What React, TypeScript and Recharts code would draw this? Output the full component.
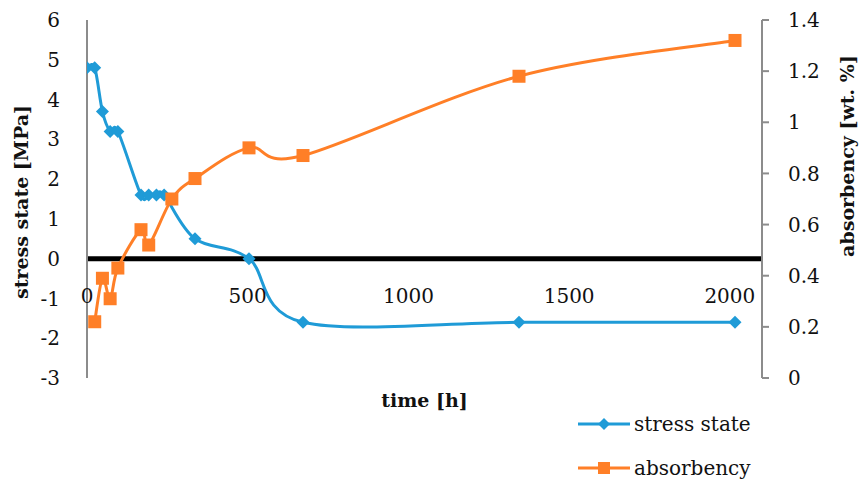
import React from 'react';
import { LineChart, Line, XAxis, YAxis, ReferenceLine, Legend } from 'recharts';

// ---- data ----
const stressTimes = [0, 24, 48, 72, 96, 168, 192, 216, 240, 336, 504, 672, 1344, 2016];
const stressValues = [4.8, 4.8, 3.7, 3.2, 3.2, 1.6, 1.6, 1.6, 1.6, 0.5, 0, -1.6, -1.6, -1.6];
const absTimes = [24, 48, 72, 96, 168, 192, 264, 336, 504, 672, 1344, 2016];
const absValues = [0.22, 0.39, 0.31, 0.43, 0.58, 0.52, 0.7, 0.78, 0.9, 0.87, 1.18, 1.32];
const xTicks = [0, 500, 1000, 1500, 2000];
const leftTicks = [-3, -2, -1, 0, 1, 2, 3, 4, 5, 6];
const rightTicks = [0, 0.2, 0.4, 0.6, 0.8, 1, 1.2, 1.4];
const seriesNames = { stress: 'stress state', abs: 'absorbency' };

const allTimes = Array.from(new Set([...stressTimes, ...absTimes])).sort((a, b) => a - b);
const table = allTimes.map((t) => {
  const si = stressTimes.indexOf(t);
  const ai = absTimes.indexOf(t);
  return { t, stress: si >= 0 ? stressValues[si] : null, abs: ai >= 0 ? absValues[ai] : null };
});

// ---- style / layout ----
const W = 860;
const H = 484;
const TOP = 20;
const PLOT_H = 358;
const LEFT_W = 87;
const RIGHT_W = 98;
const XAXIS_H = H - TOP - PLOT_H;
const LEFT_DOMAIN: [number, number] = [-3, 6];
const ZERO_Y = TOP + (PLOT_H * LEFT_DOMAIN[1]) / (LEFT_DOMAIN[1] - LEFT_DOMAIN[0]);
const BLUE = '#1F9BD7';
const ORANGE = '#FF7F27';
const FONT = '"DejaVu Serif", serif';
const AXIS_GRAY = '#8C8C8C';

// Excel-like smooth curve (Catmull-Rom bezier)
function smoothCurve(context: any) {
  let pts: number[][] = [];
  return {
    areaStart() {},
    areaEnd() {},
    lineStart() {
      pts = [];
    },
    point(x: number, y: number) {
      pts.push([+x, +y]);
    },
    lineEnd() {
      const n = pts.length;
      if (!n) return;
      context.moveTo(pts[0][0], pts[0][1]);
      for (let i = 0; i < n - 1; i++) {
        const p0 = pts[i - 1] || pts[i];
        const p1 = pts[i];
        const p2 = pts[i + 1];
        const p3 = pts[i + 2] || p2;
        const c1x = p1[0] + (p2[0] - p0[0]) / 6;
        const c1y = p1[1] + (p2[1] - p0[1]) / 6;
        const c2x = p2[0] - (p3[0] - p1[0]) / 6;
        const c2y = p2[1] - (p3[1] - p1[1]) / 6;
        context.bezierCurveTo(c1x, c1y, c2x, c2y, p2[0], p2[1]);
      }
    },
  };
}

const Diamond = ({ cx, cy, r = 6.5, fill }: any) => (
  <polygon points={`${cx},${cy - r} ${cx + r},${cy} ${cx},${cy + r} ${cx - r},${cy}`} fill={fill} />
);
const Square = ({ cx, cy, s = 13, fill }: any) => (
  <rect x={cx - s / 2} y={cy - s / 2} width={s} height={s} fill={fill} />
);

const renderDiamond = (props: any) => {
  const { cx, cy, index, value } = props;
  if (value == null || cx == null || cy == null) return <g key={`d-${index}`} />;
  return <Diamond key={`d-${index}`} cx={cx} cy={cy} fill={BLUE} />;
};
const renderSquare = (props: any) => {
  const { cx, cy, index, value } = props;
  if (value == null || cx == null || cy == null) return <g key={`s-${index}`} />;
  return <Square key={`s-${index}`} cx={cx} cy={cy} fill={ORANGE} />;
};

const XTick = (props: any) => {
  const { x, payload } = props;
  return (
    <text x={x} y={ZERO_Y + 37} textAnchor="middle" dominantBaseline="central" fontFamily={FONT} fontSize={20} fill="#111">
      {payload.value}
    </text>
  );
};

const fmtRight = (v: number) => String(Math.round(v * 10) / 10);

const LeftTitle = (props: any) => {
  const vb = props.viewBox || {};
  const cx = 21;
  const cy = vb.y + vb.height / 2 + 3;
  return (
    <text x={cx} y={cy} transform={`rotate(-90 ${cx} ${cy})`} textAnchor="middle" dominantBaseline="central" fontFamily={FONT} fontWeight="bold" fontSize={19} fill="#111">
      stress state [MPa]
    </text>
  );
};
const RightTitle = () => {
  const cx = 847;
  const cy = 156;
  return (
    <text x={cx} y={cy} transform={`rotate(-90 ${cx} ${cy})`} textAnchor="middle" dominantBaseline="central" fontFamily={FONT} fontWeight="bold" fontSize={19} fill="#111">
      absorbency [wt. %]
    </text>
  );
};
const XTitle = (props: any) => {
  const vb = props.viewBox || {};
  return (
    <text x={vb.x + vb.width / 2} y={vb.y + 22} textAnchor="middle" dominantBaseline="central" fontFamily={FONT} fontWeight="bold" fontSize={19} fill="#111">
      time [h]
    </text>
  );
};

const LegendContent = () => {
  const items = [
    { name: seriesNames.stress, color: BLUE, kind: 'diamond' },
    { name: seriesNames.abs, color: ORANGE, kind: 'square' },
  ];
  return (
    <svg width={200} height={70} style={{ display: 'block', overflow: 'visible' }}>
      {items.map((it, i) => {
        const y = 16 + i * 44;
        return (
          <g key={it.name}>
            <line x1={8} x2={60} y1={y} y2={y} stroke={it.color} strokeWidth={3} />
            {it.kind === 'diamond' ? <Diamond cx={34} cy={y} r={6} fill={it.color} /> : <Square cx={34} cy={y} s={12} fill={it.color} />}
            <text x={64} y={y} dominantBaseline="central" fontFamily={FONT} fontSize={20} fill="#111">
              {it.name}
            </text>
          </g>
        );
      })}
    </svg>
  );
};

export default function App() {
  return (
    <div style={{ position: 'absolute', left: 0, top: 0, width: W, height: H, background: '#fff' }}>
      <LineChart width={W} height={H} data={table} margin={{ top: TOP, right: 0, bottom: 0, left: 0 }}>
        <XAxis
          dataKey="t"
          type="number"
          domain={[0, 2100]}
          ticks={xTicks}
          allowDataOverflow
          axisLine={false}
          tickLine={false}
          height={XAXIS_H}
          tick={<XTick />}
          label={<XTitle />}
          interval={0}
        />
        <YAxis
          yAxisId="left"
          orientation="left"
          domain={LEFT_DOMAIN}
          ticks={leftTicks}
          width={LEFT_W}
          axisLine={{ stroke: AXIS_GRAY, strokeWidth: 2 }}
          tickLine={false}
          tickSize={8}
          tickMargin={19}
          interval={0}
          tick={{ fontFamily: FONT, fontSize: 20, fill: '#111' }}
          label={<LeftTitle />}
        />
        <YAxis
          yAxisId="right"
          orientation="right"
          domain={[0, 1.4]}
          ticks={rightTicks}
          width={RIGHT_W}
          axisLine={{ stroke: AXIS_GRAY, strokeWidth: 2 }}
          tickLine={{ stroke: AXIS_GRAY, strokeWidth: 2 }}
          tickSize={7}
          tickMargin={19}
          interval={0}
          tickFormatter={fmtRight}
          tick={{ fontFamily: FONT, fontSize: 20, fill: '#111', textAnchor: 'start' }}
          label={<RightTitle />}
        />
        <ReferenceLine yAxisId="left" y={0} stroke="#000" strokeWidth={5} />
        <Line
          yAxisId="left"
          dataKey="stress"
          name={seriesNames.stress}
          type={smoothCurve as any}
          stroke={BLUE}
          strokeWidth={3}
          dot={renderDiamond}
          activeDot={false}
          connectNulls
          isAnimationActive={false}
        />
        <Line
          yAxisId="right"
          dataKey="abs"
          name={seriesNames.abs}
          type={smoothCurve as any}
          stroke={ORANGE}
          strokeWidth={3}
          dot={renderSquare}
          activeDot={false}
          connectNulls
          isAnimationActive={false}
        />
        <Legend
          layout="vertical"
          align="center"
          verticalAlign="middle"
          content={<LegendContent />}
          wrapperStyle={{ position: 'absolute', left: 570, top: 408, width: 220, height: 80 }}
        />
      </LineChart>
    </div>
  );
}
